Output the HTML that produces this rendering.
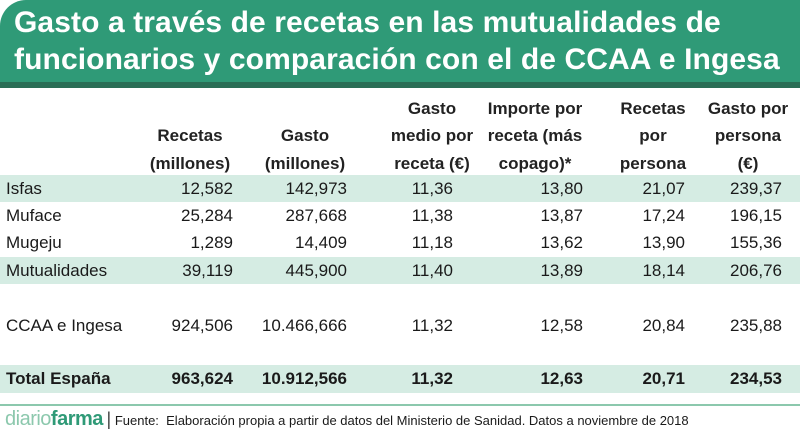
<!DOCTYPE html>
<html><head><meta charset="utf-8"><style>
body{margin:0;width:800px;height:435px;background:#fff;font-family:"Liberation Sans",sans-serif;position:relative;overflow:hidden;color:#1a1a1a}
.hdr{position:absolute;left:0;top:0;width:800px;height:82px;background:#2f9a77;border-top-left-radius:26px}
.hdrline{position:absolute;left:0;top:82px;width:800px;height:6px;background:#2a6e56}
.title{position:absolute;left:14px;top:4px;color:#fff;font-weight:bold;font-size:30px;line-height:37px;letter-spacing:0.1px;white-space:nowrap}
.band{position:absolute;left:0;width:800px;background:#d5ece3}
.c{position:absolute;font-size:17px;white-space:nowrap;line-height:27px}
.h{position:absolute;font-size:17px;font-weight:bold;text-align:center;line-height:27.5px;color:#222}
.b{font-weight:bold}
.foot{position:absolute;left:0;top:404px;width:800px;height:2px;background:#8cc8ad}
</style></head><body>
<div class="hdr"></div>
<div class="hdrline"></div>
<div class="title">Gasto a través de recetas en las mutualidades de<br>funcionarios y comparación con el de CCAA e Ingesa</div>
<div class="band" style="top:175px;height:27px"></div>
<div class="band" style="top:257px;height:27px"></div>
<div class="band" style="top:365px;height:28px"></div>
<div id="t"></div>
<div class="foot"></div>
<div class="c" style="left:5px;top:406px;font-size:13px"><span style="font-size:20px;color:#8cc8ad;letter-spacing:-0.5px">diario</span><span style="font-size:20px;color:#2f9a77;font-weight:bold;letter-spacing:-0.5px">farma</span> <span style="font-size:18px;color:#444">|</span> Fuente:&nbsp; Elaboración propia a partir de datos del Ministerio de Sanidad. Datos a noviembre de 2018</div>
<script>
const headers=[["Recetas","(millones)"],["Gasto","(millones)"],["Gasto","medio por","receta (€)"],["Importe por","receta (más","copago)*"],["Recetas","por","persona"],["Gasto por","persona","(€)"]];
const rowLabels=["Isfas","Muface","Mugeju","Mutualidades","CCAA e Ingesa","Total España"];
const recetas=["12,582","25,284","1,289","39,119","924,506","963,624"];
const gasto=["142,973","287,668","14,409","445,900","10.466,666","10.912,566"];
const gastoMedio=["11,36","11,38","11,18","11,40","11,32","11,32"];
const importe=["13,80","13,87","13,62","13,89","12,58","12,63"];
const recPersona=["21,07","17,24","13,90","18,14","20,84","20,71"];
const gasPersona=["239,37","196,15","155,36","206,76","235,88","234,53"];
const cols=[recetas,gasto,gastoMedio,importe,recPersona,gasPersona];
const rights=[233,347,453,583,685,782];
const centers=[190,305,432,535,653,748];
const rowY=[175,202,229,257,312,365];
const t=document.getElementById('t');
headers.forEach((h,i)=>{const d=document.createElement('div');d.className='h';


d.style.left=(centers[i]-65)+'px';d.style.width='130px';d.style.top=(177-27.5*h.length)+'px';d.innerHTML=h.join('<br>');t.appendChild(d);});
rowLabels.forEach((l,r)=>{const bold=r===5;const d=document.createElement('div');d.className='c'+(bold?' b':'');


d.style.left='6px';d.style.top=rowY[r]+'px';d.textContent=l;t.appendChild(d);
cols.forEach((c,i)=>{const e=document.createElement('div');e.className='c'+(bold?' b':'');


e.style.right=(800-rights[i])+'px';e.style.top=rowY[r]+'px';e.textContent=c[r];t.appendChild(e);});});
</script>
</body></html>
